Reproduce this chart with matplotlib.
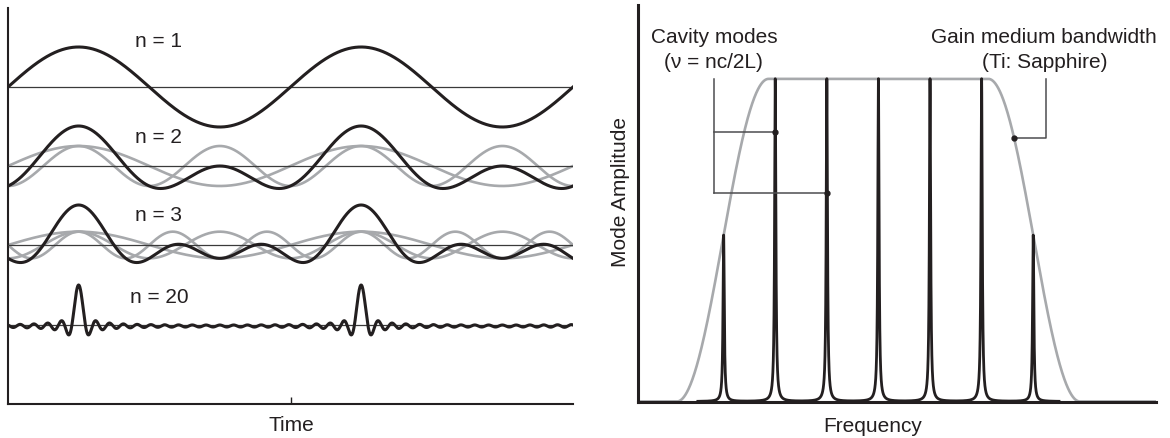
import numpy as np
import matplotlib
matplotlib.use("Agg")
import matplotlib.pyplot as plt

plt.rcParams['font.family'] = ['Liberation Sans', 'DejaVu Sans']
plt.rcParams['font.size'] = 15

BLACK = '#231f20'
GREY = '#a7a9ac'
LINE = '#4d4d4f'

# left panel: superposition of n phase-locked modes
mode_counts = [1, 2, 3, 20]
mode_labels = ['n = 1', 'n = 2', 'n = 3', 'n = 20']
show_parts = [False, True, True, False]
trace_offsets = [317, 238, 159, 79]      # baseline of each trace
label_heights = [357, 261, 183, 101]
label_x = 0.534
pulse_height = 40                        # peak of every summed trace
pulse_time = 0.25                        # first pulse, in round-trip periods
time_span = [0, 2]
time_tick = [1.0]

# right panel: cavity modes under the gain envelope
mode_freqs = [-3, -2, -1, 0, 1, 2, 3]    # in units of c/2L
gain_flat = 2.13                         # flat top half width
gain_edge = 3.905                        # where the gain reaches zero
mode_width = 0.0145
freq_span = [-4.66, 5.38]
cavity_marks = [-2, -1]
cavity_levels = [0.835, 0.645]
cavity_line_x = -3.19
gain_mark = 2.63
gain_line_x = 3.25


def gain(f):
    d = np.clip((np.abs(f) - gain_flat) / (gain_edge - gain_flat), 0, 1)
    return 0.5 + 0.5 * np.cos(np.pi * d)


fig = plt.figure(figsize=(11.7, 4.38), dpi=100)
axL = fig.add_axes([8 / 1170, 34 / 438, 565 / 1170, 396 / 438])
axR = fig.add_axes([638 / 1170, 36.5 / 438, 518 / 1170, 396.5 / 438])

# ---- left: time domain
t = np.linspace(time_span[0], time_span[1], 4000)
theta = 2 * np.pi * (t - pulse_time)
for n, base, lab, lh, parts in zip(mode_counts, trace_offsets, mode_labels,
                                   label_heights, show_parts):
    amp = pulse_height / n
    comps = [amp * np.cos(k * theta) for k in range(1, n + 1)]
    if parts:
        for c in comps:
            axL.plot(t, base + c, color=GREY, lw=1.9, zorder=2)
    axL.axhline(base, color='#3a3a3a', lw=0.9, zorder=3)
    axL.plot(t, base + np.sum(comps, axis=0), color=BLACK, lw=2.2, zorder=4)
    axL.text(label_x, lh, lab, ha='center', va='baseline', color=BLACK)

axL.set_xlim(time_span)
axL.set_ylim(0, 396)
axL.set_xticks(time_tick)
axL.set_xticklabels([])
axL.set_yticks([])
axL.tick_params(axis='x', direction='in', length=5, width=1, color=BLACK)
for s in ['top', 'right']:
    axL.spines[s].set_visible(False)
for s in ['left', 'bottom']:
    axL.spines[s].set_linewidth(1.5)
    axL.spines[s].set_color(BLACK)
axL.set_xlabel('Time', va='baseline', color=BLACK)
axL.xaxis.set_label_coords(0.501, -27 / 396)

# ---- right: frequency domain
f = np.linspace(freq_span[0], freq_span[1], 4000)
axR.plot(f, gain(f), color=GREY, lw=1.9, zorder=2)

fm = np.linspace(-3.5, 3.5, 60001)
spec = np.zeros_like(fm)
for k in mode_freqs:
    spec += gain(k) * mode_width ** 2 / ((fm - k) ** 2 + mode_width ** 2)
axR.plot(fm, spec, color=BLACK, lw=2.0, zorder=3)

# cavity mode callout
axR.plot([cavity_line_x, cavity_line_x], [1.0, cavity_levels[-1]],
         color=LINE, lw=1.1, zorder=4)
for k, lv in zip(cavity_marks, cavity_levels):
    axR.plot([cavity_line_x, k], [lv, lv], color=LINE, lw=1.1, zorder=4)
    axR.plot(k, lv, 'o', color=BLACK, ms=3.5, zorder=5)
axR.text(cavity_line_x, 1.112, 'Cavity modes', ha='center', va='baseline', color=BLACK)
axR.text(cavity_line_x, 1.034, '(ν = nc/2L)', ha='center', va='baseline', color=BLACK)

# gain bandwidth callout
gm = gain(gain_mark)
axR.plot([gain_mark, gain_line_x, gain_line_x], [gm, gm, 1.0],
         color=LINE, lw=1.1, zorder=4)
axR.plot(gain_mark, gm, 'o', color=BLACK, ms=3.5, zorder=5)
axR.text(3.21, 1.112, 'Gain medium bandwidth', ha='center', va='baseline', color=BLACK)
axR.text(3.23, 1.034, '(Ti: Sapphire)', ha='center', va='baseline', color=BLACK)

axR.set_xlim(freq_span)
axR.set_ylim(0, 1.229)
axR.set_xticks([])
axR.set_yticks([])
for s in ['top', 'right']:
    axR.spines[s].set_visible(False)
for s in ['left', 'bottom']:
    axR.spines[s].set_linewidth(2.2)
    axR.spines[s].set_color(BLACK)
axR.set_xlabel('Frequency', va='baseline', color=BLACK)
axR.xaxis.set_label_coords(0.454, -30.5 / 396.5)
axR.set_ylabel('Mode Amplitude', color=BLACK)
axR.yaxis.set_label_coords(-8 / 518, 0.528)

fig.savefig('out.png', dpi=100)
